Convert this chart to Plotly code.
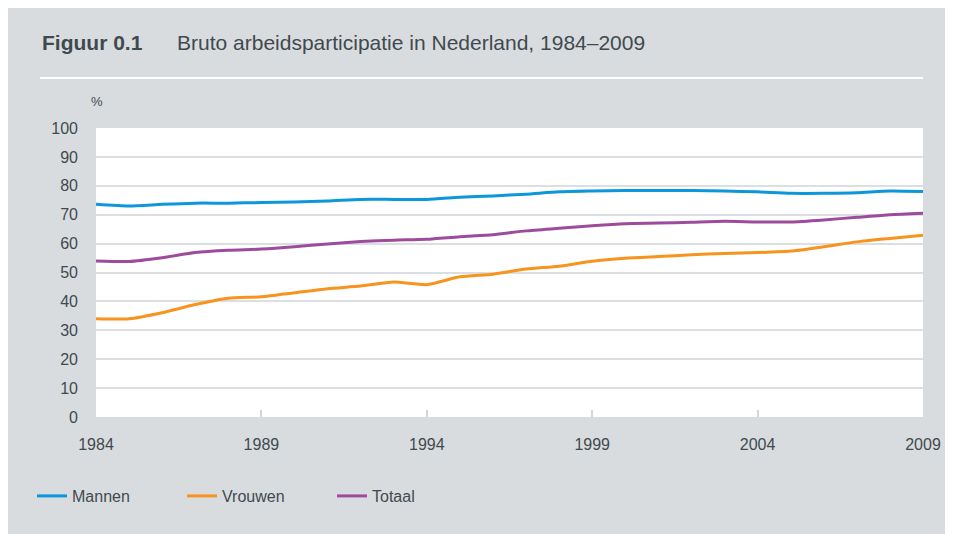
import plotly.graph_objects as go

years = list(range(1984, 2010))

mannen = [73.6, 73.0, 73.6, 74.0, 74.0, 74.2, 74.4, 74.7, 75.3, 75.3, 75.3, 76.0, 76.5,
          77.1, 77.9, 78.2, 78.4, 78.4, 78.4, 78.2, 77.9, 77.4, 77.4, 77.6, 78.2, 78.0]
vrouwen = [34.0, 34.0, 36.1, 38.9, 41.1, 41.6, 43.0, 44.4, 45.3, 46.7, 45.8, 48.5, 49.4,
           51.2, 52.2, 53.9, 54.9, 55.5, 56.1, 56.6, 56.9, 57.4, 58.9, 60.6, 61.8, 62.9]
totaal = [54.0, 53.8, 55.1, 56.9, 57.7, 58.1, 58.9, 59.9, 60.7, 61.2, 61.5, 62.4, 63.1,
          64.4, 65.3, 66.2, 66.9, 67.1, 67.4, 67.7, 67.5, 67.5, 68.2, 69.1, 70.0, 70.5]

x_ticks = [1984, 1989, 1994, 1999, 2004, 2009]
y_ticks = list(range(0, 101, 10))

GRAY = "#d9dcdf"
TEXT = "#3f4a4f"
FONT = "Liberation Sans, Arial, sans-serif"

# page body has an 8px margin; window plot area is x 96..923, y 128..417
OFF = 8
W, H = 953 - OFF, 534 - OFF
L, T = 96 - OFF, 128 - OFF
R, B = W - (923 - OFF), H - (417 - OFF)
pw, ph = W - L - R, H - T - B


def px(x):
    # window pixel -> paper x
    return (x - OFF - L) / pw


def py(y):
    # window pixel -> paper y
    return (H - B - (y - OFF)) / ph


fig = go.Figure()
series = [("Mannen", mannen, "#0b97d9"),
          ("Vrouwen", vrouwen, "#f7941d"),
          ("Totaal", totaal, "#9d4b9d")]
for name, vals, col in series:
    fig.add_trace(go.Scatter(x=years, y=vals, name=name, mode="lines",
                             line=dict(color=col, width=3, shape="spline", smoothing=0.6)))

fig.update_layout(
    width=W, height=H,
    margin=dict(l=L, r=R, t=T, b=B),
    paper_bgcolor=GRAY,
    plot_bgcolor="white",
    font=dict(family=FONT, color=TEXT, size=16),
    showlegend=True,
    legend=dict(orientation="h", x=px(32), y=py(496), xanchor="left", yanchor="middle",
                entrywidth=105, entrywidthmode="pixels", bgcolor="rgba(0,0,0,0)",
                font=dict(size=16, color=TEXT)),
    shapes=[
        dict(type="line", xref="paper", yref="paper", x0=px(40), x1=1, y0=py(78), y1=py(78),
             line=dict(color="white", width=2)),
    ],
    annotations=[
        dict(text="<b>Figuur 0.1</b>", xref="paper", yref="paper", x=px(40), y=py(42),
             xanchor="left", yanchor="middle", showarrow=False,
             font=dict(size=21, color=TEXT)),
        dict(text="Bruto arbeidsparticipatie in Nederland, 1984–2009", xref="paper", yref="paper",
             x=px(175), y=py(42), xanchor="left", yanchor="middle", showarrow=False,
             font=dict(size=21, color=TEXT)),
        dict(text="%", xref="paper", yref="paper", x=px(97), y=py(102),
             xanchor="center", yanchor="middle", showarrow=False,
             font=dict(size=13, color=TEXT)),
    ],
)

fig.update_xaxes(range=[1984, 2009], tickvals=x_ticks, ticktext=[str(t) for t in x_ticks],
                 showgrid=False, zeroline=False, showline=False,
                 ticks="inside", ticklen=7, tickcolor="#d3d6d9", tickwidth=1.5,
                 ticklabelstandoff=16, tickfont=dict(size=16, color=TEXT))
fig.update_yaxes(range=[0, 100], tickvals=y_ticks, showgrid=True, gridcolor="#dcdfe2",
                 gridwidth=1.5, zeroline=False, showline=False, ticks="",
                 ticklabelstandoff=17, tickfont=dict(size=16, color=TEXT))

fig.write_html("out.html")
